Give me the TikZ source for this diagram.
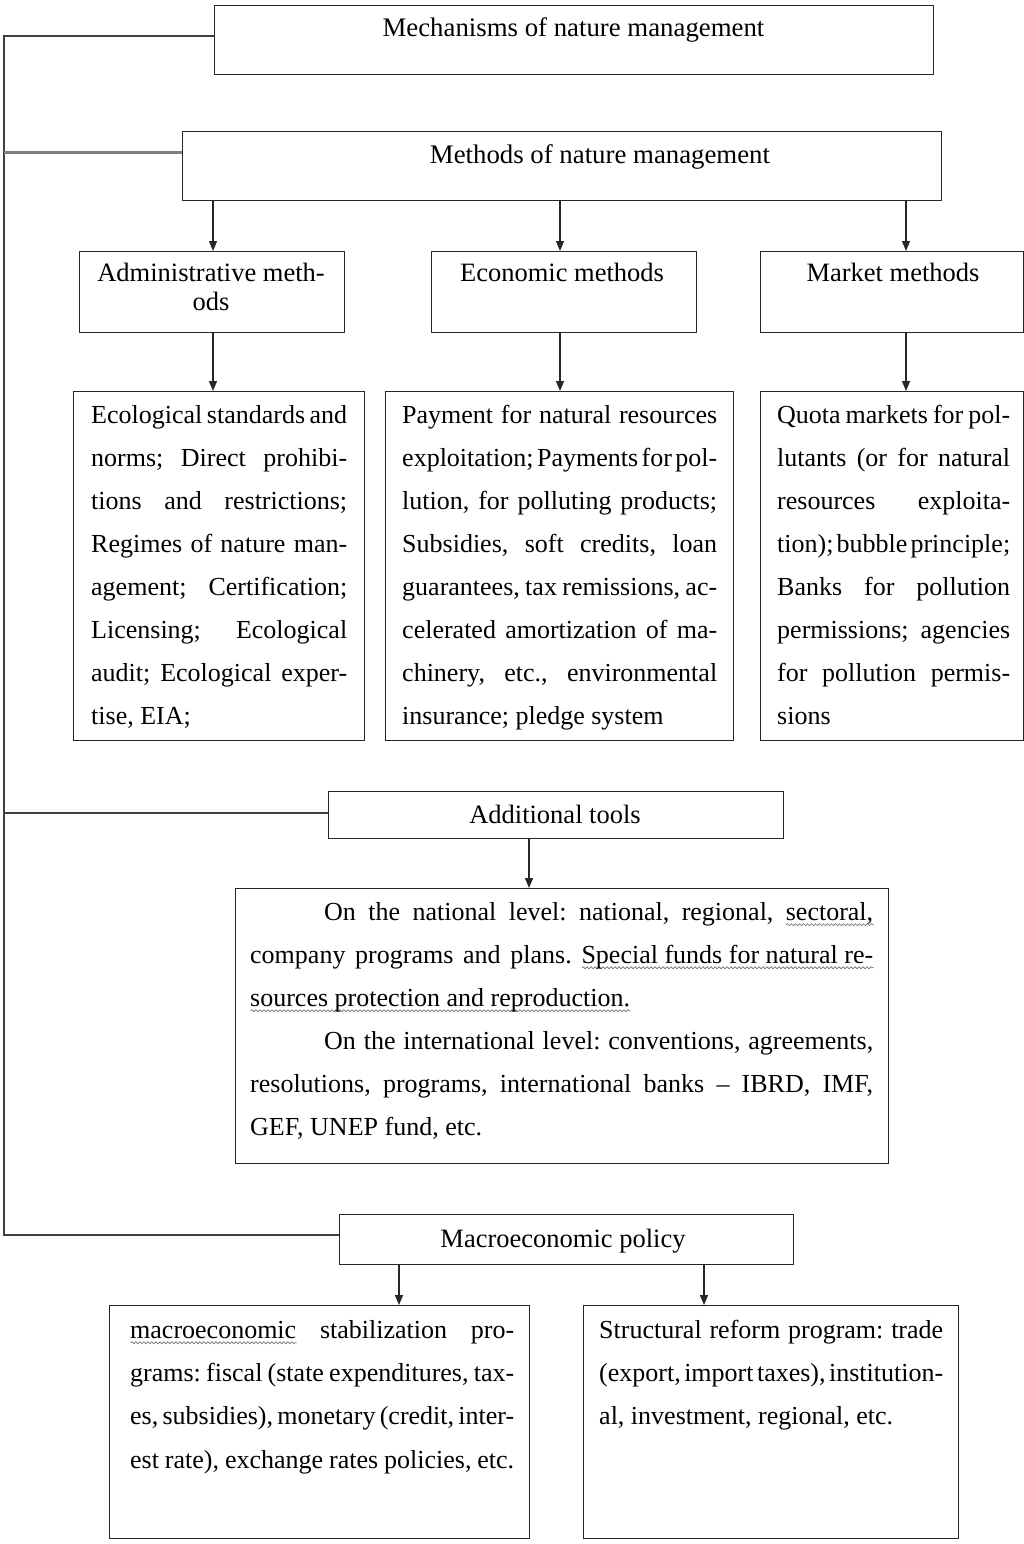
\documentclass[tikz,border=0pt]{standalone}
\usepackage{fontspec}
\setmainfont{Liberation Serif}
\usetikzlibrary{arrows.meta,decorations.pathmorphing}

% one justified line of a given width
\newcommand\jl[2]{{\spaceskip=.25em plus .6em minus .14em\xspaceskip=\spaceskip
  \makebox[#1][s]{#2}}}
% one flush-left line of a given width
\newcommand\lline[2]{{\spaceskip=.25em\xspaceskip=\spaceskip\makebox[#1][l]{#2}}}
% text with a wavy underline
\newsavebox\wavybox
\newlength\wavylen
\newcommand\wavy[1]{\sbox\wavybox{#1}\setlength\wavylen{\wd\wavybox}%
  \rlap{\tikz[baseline=0pt,x=1pt,y=1pt]\draw[black!55,line width=0.7pt,
    decorate,decoration={snake,amplitude=1pt,segment length=4pt}]
    (0pt,-4.5pt) -- (\wavylen,-4.5pt);}\usebox\wavybox}

\begin{document}
\frenchspacing
\begin{tikzpicture}[x=1pt,y=-1pt,
  box/.style={draw=black!85,line width=1.3pt,rectangle,inner sep=0pt,anchor=north west},
  head/.style={inner sep=0pt,anchor=base,font=\fontsize{26.5}{29}\selectfont},
  title/.style={head,font=\fontsize{26.8}{29}\selectfont},
  txt/.style={inner sep=0pt,anchor=north west,font=\fontsize{26}{43}\selectfont},
  arr/.style={draw=black!85,line width=1.3pt,-{Triangle[length=10pt,width=8pt]}},
  trunk/.style={draw=black!75,line width=1.5pt},
  branch/.style={draw=black!50,line width=3pt}]
\useasboundingbox (0,0) rectangle (1024,1544);

% boxes
\node[box,minimum width=719pt,minimum height=69pt] (mech) at (214,5) {};
\node[box,minimum width=759pt,minimum height=69pt] (meth) at (182,131) {};
\node[box,minimum width=265pt,minimum height=81pt] (adm) at (79,251) {};
\node[box,minimum width=265pt,minimum height=81pt] (eco) at (431,251) {};
\node[box,minimum width=263pt,minimum height=81pt] (mkt) at (760,251) {};
\node[box,minimum width=291pt,minimum height=349pt] (det1) at (73,391) {};
\node[box,minimum width=348pt,minimum height=349pt] (det2) at (385,391) {};
\node[box,minimum width=263pt,minimum height=349pt] (det3) at (760,391) {};
\node[box,minimum width=455pt,minimum height=47pt] (add) at (328,791) {};
\node[box,minimum width=653pt,minimum height=275pt] (nat) at (235,888) {};
\node[box,minimum width=454pt,minimum height=50pt] (mac) at (339,1214) {};
\node[box,minimum width=420pt,minimum height=233pt] (bl) at (109,1305) {};
\node[box,minimum width=375pt,minimum height=233pt] (br) at (583,1305) {};

% headings
\node[title] (mech-t) at (573.5,37) {Mechanisms of nature management};
\node[title] (meth-t) at (600,163) {Methods of nature management};
\node[head,anchor=north,text width=250pt] (adm-t) at (211,260.7)
  {\spaceskip=.25em\centering\strut Administrative meth-\\ods\par};
\node[head] (eco-t) at (562,281) {Economic methods};
\node[head] (mkt-t) at (893,281) {Market methods};
\node[head] (add-t) at (555,823) {Additional tools};
\node[head] (mac-t) at (563,1247) {Macroeconomic policy};

% box contents
\node[txt,text width=256pt] (det1-t) at (91,392.9) {\strut
  \jl{256pt}{Ecological standards and}\\
  \jl{256pt}{norms; Direct prohibi-}\\
  \jl{256pt}{tions and restrictions;}\\
  \jl{256pt}{Regimes of nature man-}\\
  \jl{256pt}{agement; Certification;}\\
  \jl{256pt}{Licensing; Ecological}\\
  \jl{256pt}{audit; Ecological exper-}\\
  \lline{256pt}{tise, EIA;}};

\node[txt,text width=315pt] (det2-t) at (402,392.9) {\strut
  \jl{315pt}{Payment for natural resources}\\
  \jl{315pt}{exploitation; Payments for pol-}\\
  \jl{315pt}{lution, for polluting products;}\\
  \jl{315pt}{Subsidies, soft credits, loan}\\
  \jl{315pt}{guarantees, tax remissions, ac-}\\
  \jl{315pt}{celerated amortization of ma-}\\
  \jl{315pt}{chinery, etc., environmental}\\
  \lline{315pt}{insurance; pledge system}};

\node[txt,text width=233pt] (det3-t) at (777,392.9) {\strut
  \jl{233pt}{Quota markets for pol-}\\
  \jl{233pt}{lutants (or for natural}\\
  \jl{233pt}{resources exploita-}\\
  \jl{233pt}{tion); bubble principle;}\\
  \jl{233pt}{Banks for pollution}\\
  \jl{233pt}{permissions; agencies}\\
  \jl{233pt}{for pollution permis-}\\
  \lline{233pt}{sions}};

\node[txt,text width=623pt] (nat-t) at (250,889.9) {\strut
  \jl{623pt}{\hspace*{74pt}On the national level: national, regional, \wavy{sectoral,}}\\
  \jl{623pt}{company programs and plans. \wavy{Special funds for natural re-}}\\
  \lline{623pt}{\wavy{sources protection and reproduction.}}\\
  \jl{623pt}{\hspace*{74pt}On the international level: conventions, agreements,}\\
  \jl{623pt}{resolutions, programs, international banks -- IBRD, IMF,}\\
  \lline{623pt}{GEF, UNEP fund, etc.}};

\node[txt,text width=384pt,font=\fontsize{26}{43.3}\selectfont] (bl-t) at (130,1307.7) {\strut
  \jl{384pt}{\wavy{macroeconomic} stabilization pro-}\\
  \jl{384pt}{grams: fiscal (state expenditures, tax-}\\
  \jl{384pt}{es, subsidies), monetary (credit, inter-}\\
  \jl{384pt}{est rate), exchange rates policies, etc.}};

\node[txt,text width=344pt,font=\fontsize{26}{43.3}\selectfont] (br-t) at (599,1307.7) {\strut
  \jl{344pt}{Structural reform program: trade}\\
  \jl{344pt}{(export, import taxes), institution-}\\
  \lline{344pt}{al, investment, regional, etc.}};

% arrow columns
\coordinate (c1) at (213,0);
\coordinate (c2) at (560,0);
\coordinate (c3) at (906,0);
\coordinate (c4) at (529,0);
\coordinate (c5) at (399,0);
\coordinate (c6) at (704,0);

\draw[arr] (meth.south -| c1) -- (adm.north -| c1);
\draw[arr] (meth.south -| c2) -- (eco.north -| c2);
\draw[arr] (meth.south -| c3) -- (mkt.north -| c3);
\draw[arr] (adm.south -| c1) -- (det1.north -| c1);
\draw[arr] (eco.south -| c2) -- (det2.north -| c2);
\draw[arr] (mkt.south -| c3) -- (det3.north -| c3);
\draw[arr] (add.south -| c4) -- (nat.north -| c4);
\draw[arr] (mac.south -| c5) -- (bl.north -| c5);
\draw[arr] (mac.south -| c6) -- (br.north -| c6);

% left trunk with its branches
\coordinate (j1) at (4,36);
\coordinate (j2) at (4,152);
\coordinate (j3) at (4,813);
\coordinate (j4) at (4,1235);
\draw[trunk] (j1 -| mech.west) -- (j1) -- (j4) -- (j4 -| mac.west);
\draw[branch] (j2) -- (j2 -| meth.west);
\draw[trunk] (j3) -- (j3 -| add.west);
\end{tikzpicture}
\end{document}
